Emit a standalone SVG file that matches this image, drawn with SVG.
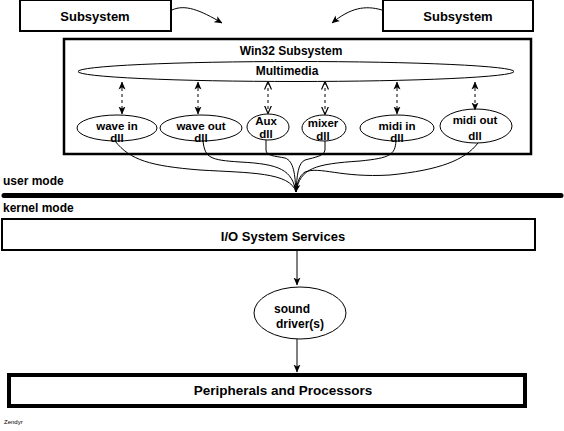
<svg xmlns="http://www.w3.org/2000/svg" width="564" height="431" viewBox="0 0 564 431">
<style>
text{font-family:"Liberation Sans",Arial,sans-serif;font-weight:bold;fill:#000}
.box{fill:#fff;stroke:#000}
.ell{fill:#fff;stroke:#000;stroke-width:1}
.t12{font-size:12px}
.t11{font-size:11.5px}
.c{text-anchor:middle}
.dash{fill:none;stroke:#000;stroke-width:1;stroke-dasharray:3,3}
.wire{fill:none;stroke:#000;stroke-width:1}
</style>
<defs>
<marker id="af" viewBox="0 0 8 8" refX="7.5" refY="4" markerWidth="8" markerHeight="8" markerUnits="userSpaceOnUse" orient="auto-start-reverse">
<path d="M0,0.5 L8,4 L0,7.5 L2,4 Z" fill="#000"/>
</marker>
<marker id="ao" viewBox="0 0 8 8" refX="7.5" refY="4" markerWidth="8" markerHeight="8" markerUnits="userSpaceOnUse" orient="auto-start-reverse">
<path d="M0,0.5 L8,4 L0,7.5" fill="none" stroke="#000" stroke-width="1.2"/>
</marker>
</defs>
<rect width="564" height="431" fill="#fff"/>

<g id="subsystem-left">
<rect class="box" x="20" y="0" width="151" height="31" stroke-width="2"/>
<text class="t12 c" x="95" y="21" style="font-size:13px">Subsystem</text>
</g>
<g id="subsystem-right">
<rect class="box" x="383" y="0" width="150" height="31" stroke-width="2"/>
<text class="t12 c" x="458" y="21" style="font-size:13px">Subsystem</text>
</g>

<g id="win32">
<rect class="box" x="64" y="39" width="467" height="115" stroke-width="2.5"/>
<text class="t12 c" x="291" y="55">Win32 Subsystem</text>
</g>
<g id="multimedia">
<ellipse class="ell" cx="296" cy="71.5" rx="218" ry="10"/>
<text class="t12 c" x="287" y="75">Multimedia</text>
</g>

<g id="wave-in">
<ellipse class="ell" cx="117" cy="128" rx="40" ry="13"/>
<text class="t11 c" x="117" y="130">wave in</text>
<text class="t11 c" x="117" y="142">dll</text>
</g>
<g id="wave-out">
<ellipse class="ell" cx="201" cy="128" rx="41" ry="13"/>
<text class="t11 c" x="201" y="130">wave out</text>
<text class="t11 c" x="201" y="142">dll</text>
</g>
<g id="aux">
<ellipse class="ell" cx="268" cy="127" rx="21" ry="13"/>
<text class="t11 c" x="266" y="125">Aux</text>
<text class="t11 c" x="266" y="138">dll</text>
</g>
<g id="mixer">
<ellipse class="ell" cx="324" cy="128" rx="22" ry="13"/>
<text class="t11 c" x="323" y="127">mixer</text>
<text class="t11 c" x="323" y="140">dll</text>
</g>
<g id="midi-in">
<ellipse class="ell" cx="397" cy="128" rx="37" ry="13"/>
<text class="t11 c" x="397" y="130">midi in</text>
<text class="t11 c" x="397" y="142">dll</text>
</g>
<g id="midi-out">
<ellipse class="ell" cx="476" cy="126" rx="36" ry="17"/>
<text class="t11 c" x="475" y="124">midi out</text>
<text class="t11 c" x="475" y="140">dll</text>
</g>

<g id="mode-bar">
<line x1="4" y1="195.5" x2="561" y2="195.5" stroke="#000" stroke-width="5" stroke-linecap="round"/>
<text class="t12" x="3" y="185">user mode</text>
<text class="t12" x="3" y="212">kernel mode</text>
</g>

<g id="io">
<rect class="box" x="2" y="219" width="533" height="31" stroke-width="2"/>
<text class="t12 c" x="283" y="241" style="font-size:13px">I/O System Services</text>
</g>

<g id="sound-driver">
<ellipse class="ell" cx="300" cy="313" rx="46" ry="26" stroke-width="1.5"/>
<text class="t12 c" x="292" y="313">sound</text>
<text class="t12 c" x="300" y="328">driver(s)</text>
</g>

<g id="peripherals">
<rect class="box" x="9" y="375" width="516" height="31" stroke-width="4"/>
<text class="c" x="283" y="395" style="font-size:13.5px">Peripherals and Processors</text>
</g>

<text x="4" y="424" style="font-size:6px;font-weight:normal">Zendyr</text>

<g id="connectors">
<path class="wire" d="M172,10 C185,4 200,10 222,23" marker-end="url(#af)"/>
<path class="wire" d="M382,10 C365,5 350,8 332,23" marker-end="url(#af)"/>

<path class="dash" d="M122,82 V114" marker-start="url(#af)" marker-end="url(#af)"/>
<path class="dash" d="M198,82 V114" marker-start="url(#af)" marker-end="url(#af)"/>
<path class="dash" d="M268,82 V113" marker-start="url(#ao)" marker-end="url(#ao)"/>
<path class="dash" d="M325,82 V114" marker-start="url(#ao)" marker-end="url(#ao)"/>
<path class="dash" d="M397,82 V114" marker-start="url(#af)" marker-end="url(#af)"/>
<path class="dash" d="M475,82 V110" marker-start="url(#af)" marker-end="url(#af)"/>

<path class="wire" d="M115,141 C130,160 150,166 200,170 C250,173 290,172 296,192"/>
<path class="wire" d="M203,141 C205,158 210,160 240,162 C280,164 292,170 296,192"/>
<path class="wire" d="M266,140 V150 C266,156 275,156 285,158 C294,161 295,175 296,192"/>
<path class="wire" d="M325,141 V150 C324,156 316,157 305,160 C298,163 297,175 296,192"/>
<path class="wire" d="M396,141 C395,155 390,158 360,161 C315,164 300,168 296,192"/>
<path class="wire" d="M478,143 C465,160 440,170 390,175 C340,178 320,166 305,172 C299,176 297,183 296,192" marker-end="url(#af)"/>

<path class="wire" d="M297,251 V285" marker-end="url(#af)"/>
<path class="wire" d="M297,339 V372" marker-end="url(#af)"/>
</g>
</svg>
